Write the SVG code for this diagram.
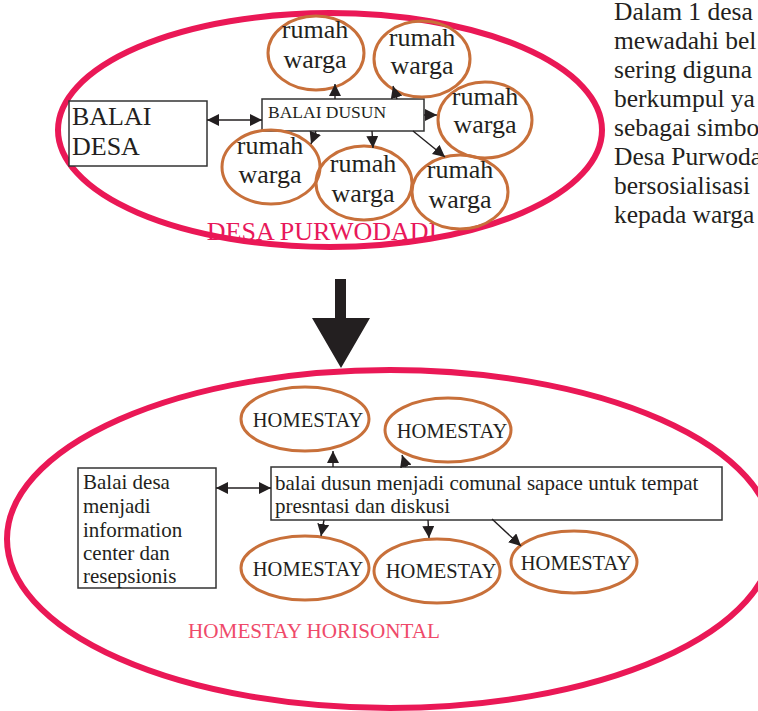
<svg xmlns="http://www.w3.org/2000/svg" width="758" height="711" viewBox="0 0 758 711">
<defs>
<style>
.t{font-family:"Liberation Serif","Times New Roman",serif;fill:#231f20}
.big{fill:none;stroke:#ea1856;stroke-width:6}
.rw{fill:none;stroke:#c8703a;stroke-width:3}
.box{fill:#fff;stroke:#333;stroke-width:1.5}
.c{stroke:#231f20;stroke-width:1.4;fill:none}
.rt{font-size:26px;text-anchor:middle}
.hs{font-size:20.5px;text-anchor:middle}
.bt{font-size:21px}
</style>
<marker id="ah" viewBox="0 0 12 12" refX="12" refY="6" markerWidth="12" markerHeight="12" markerUnits="userSpaceOnUse" orient="auto-start-reverse">
<path d="M0,0 L12,6 L0,12 z" fill="#231f20"/>
</marker>
</defs>
<rect width="758" height="711" fill="#fff"/>

<!-- top village ellipse -->
<g id="desa">
<ellipse class="big" cx="330" cy="130" rx="272" ry="117"/>
<text class="t" x="322" y="240" font-size="26" text-anchor="middle" style="fill:#e8185a">DESA PURWODADI</text>
</g>

<!-- paragraph -->
<g id="paragraph" class="t" font-size="25.5">
<text x="614" y="20">Dalam 1 desa</text>
<text x="614" y="49">mewadahi bel</text>
<text x="614" y="78">sering diguna</text>
<text x="614" y="107">berkumpul ya</text>
<text x="614" y="136">sebagai simbo</text>
<text x="614" y="165">Desa Purwoda</text>
<text x="614" y="194">bersosialisasi</text>
<text x="614" y="223">kepada warga</text>
</g>

<g id="balai-desa">
<rect class="box" x="69" y="101" width="138" height="65"/>
<text class="t" x="72" y="125" font-size="26">BALAI</text>
<text class="t" x="72" y="155" font-size="26">DESA</text>
</g>
<g id="balai-dusun">
<rect class="box" x="262" y="99" width="162" height="32"/>
<text class="t" x="268" y="118" font-size="17.5">BALAI DUSUN</text>
</g>

<g id="rw1"><ellipse class="rw" cx="316" cy="53" rx="48" ry="37"/><text class="t rt" x="315" y="38">rumah</text><text class="t rt" x="315" y="68">warga</text></g>
<g id="rw2"><ellipse class="rw" cx="422" cy="59" rx="48" ry="38"/><text class="t rt" x="422" y="46">rumah</text><text class="t rt" x="422" y="74">warga</text></g>
<g id="rw3"><ellipse class="rw" cx="485" cy="120" rx="47" ry="38"/><text class="t rt" x="485" y="105">rumah</text><text class="t rt" x="485" y="133">warga</text></g>
<g id="rw4"><ellipse class="rw" cx="271" cy="167" rx="49" ry="37"/><text class="t rt" x="270" y="154">rumah</text><text class="t rt" x="270" y="183">warga</text></g>
<g id="rw5"><ellipse class="rw" cx="364" cy="183" rx="48" ry="37"/><text class="t rt" x="363" y="172">rumah</text><text class="t rt" x="363" y="202">warga</text></g>
<g id="rw6"><ellipse class="rw" cx="460" cy="192" rx="48" ry="37"/><text class="t rt" x="460" y="178">rumah</text><text class="t rt" x="460" y="208">warga</text></g>

<!-- big arrow -->
<g id="transition">
<path d="M335,279 L346,279 L346,318 L370,318 L341,368 L312,318 L335,318 z" fill="#231f20"/>
</g>

<!-- bottom ellipse -->
<g id="homestay-area">
<ellipse class="big" cx="390" cy="539" rx="383" ry="169"/>
<text class="t" x="188" y="638" font-size="21" textLength="252" lengthAdjust="spacingAndGlyphs" style="fill:#ef4a6a">HOMESTAY HORISONTAL</text>
</g>

<g id="balai-desa-info">
<rect class="box" x="78" y="468" width="138" height="120"/>
<text class="t bt" x="83" y="489">Balai desa</text>
<text class="t bt" x="83" y="513">menjadi</text>
<text class="t bt" x="83" y="537">information</text>
<text class="t bt" x="83" y="560">center dan</text>
<text class="t bt" x="83" y="583">resepsionis</text>
</g>
<g id="balai-dusun-comunal">
<rect class="box" x="271" y="467" width="451" height="53"/>
<text class="t bt" x="275" y="490">balai dusun menjadi comunal sapace untuk tempat</text>
<text class="t bt" x="275" y="513">presntasi dan diskusi</text>
</g>

<g id="hs1"><ellipse class="rw" cx="305" cy="419" rx="64" ry="32"/><text class="t hs" x="308" y="427">HOMESTAY</text></g>
<g id="hs2"><ellipse class="rw" cx="448" cy="430" rx="63" ry="32"/><text class="t hs" x="452" y="438">HOMESTAY</text></g>
<g id="hs4"><ellipse class="rw" cx="305" cy="568" rx="64" ry="32"/><text class="t hs" x="308" y="576">HOMESTAY</text></g>
<g id="hs5"><ellipse class="rw" cx="437" cy="571" rx="63" ry="32"/><text class="t hs" x="441" y="578">HOMESTAY</text></g>
<g id="hs6"><ellipse class="rw" cx="574" cy="562" rx="63" ry="31"/><text class="t hs" x="576" y="570">HOMESTAY</text></g>

<g id="connectors" class="c">
<line x1="207" y1="120" x2="262" y2="120" marker-start="url(#ah)" marker-end="url(#ah)"/>
<line x1="335" y1="99" x2="335" y2="84" marker-end="url(#ah)"/>
<line x1="397" y1="99" x2="393" y2="86" marker-end="url(#ah)"/>
<line x1="424" y1="115" x2="437" y2="115" marker-end="url(#ah)"/>
<line x1="316" y1="131" x2="311" y2="144" marker-end="url(#ah)"/>
<line x1="372" y1="131" x2="373" y2="148" marker-end="url(#ah)"/>
<line x1="413" y1="131" x2="445" y2="157" marker-end="url(#ah)"/>

<line x1="216" y1="488" x2="271" y2="488" marker-start="url(#ah)" marker-end="url(#ah)"/>
<line x1="333" y1="467" x2="333" y2="451" marker-end="url(#ah)"/>
<line x1="406" y1="467" x2="402" y2="455" marker-end="url(#ah)"/>
<line x1="324" y1="520" x2="321" y2="536" marker-end="url(#ah)"/>
<line x1="428" y1="520" x2="429" y2="538" marker-end="url(#ah)"/>
<line x1="492" y1="519" x2="521" y2="546" marker-end="url(#ah)"/>
</g>
</svg>
